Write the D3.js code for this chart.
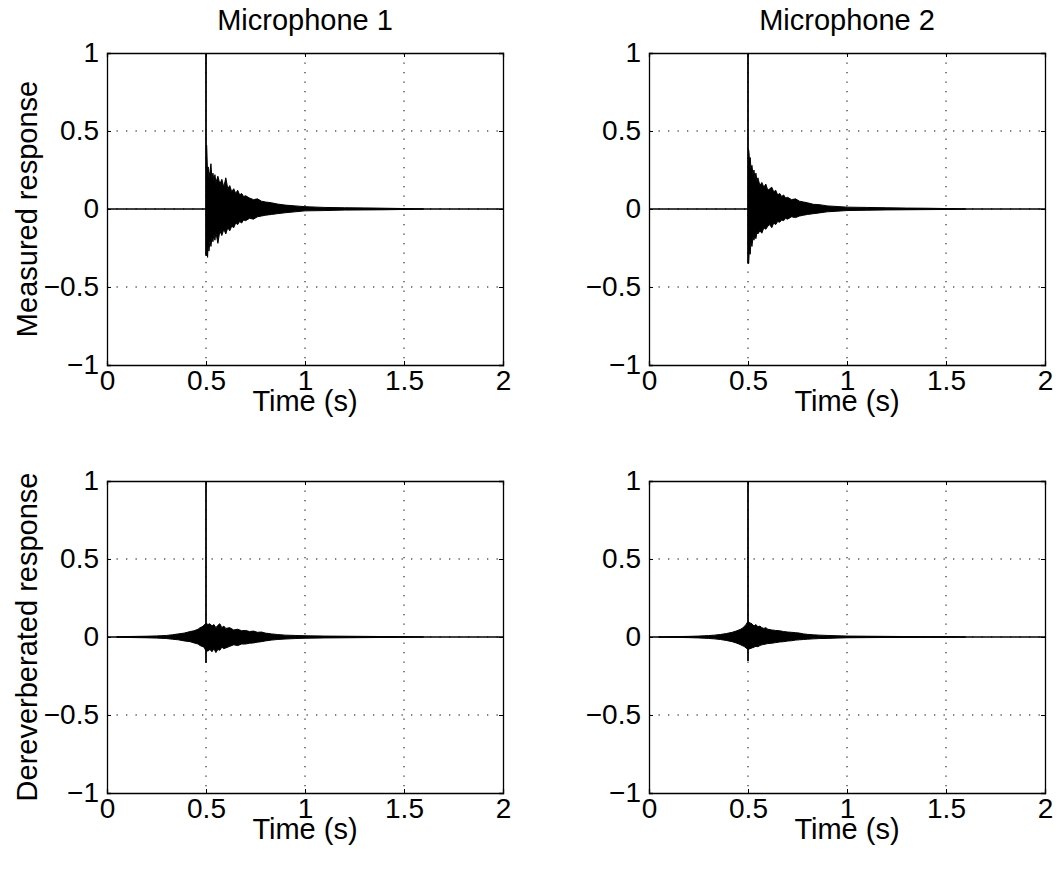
<!DOCTYPE html>
<html>
<head>
<meta charset="utf-8">
<script src="https://cdn.jsdelivr.net/npm/d3@7"></script>
<style>
  body { margin: 0; background: #fff; }
  text { font-family: "Liberation Sans", Arial, Helvetica, sans-serif; fill: #000; }
</style>
</head>
<body>
<script>
// Impulse responses, two microphones, before / after dereverberation

const titles = ["Microphone 1", "Microphone 2"];
const yLabels = ["Measured response", "Dereverberated response"];
const xLabel = "Time (s)";
const xTicks = [0, 0.5, 1, 1.5, 2];
const yTicks = [-1, -0.5, 0, 0.5, 1];
const xTickLabels = ["0", "0.5", "1", "1.5", "2"];
const yTickLabels = ["\u22121", "\u22120.5", "0", "0.5", "1"];

const tTop = [0.503, 0.505, 0.508, 0.511, 0.515, 0.52, 0.525, 0.53, 0.535, 0.54, 0.545, 0.55, 0.56, 0.57, 0.58, 0.59, 0.6, 0.61, 0.62, 0.63, 0.64, 0.65, 0.66, 0.67, 0.68, 0.69, 0.7, 0.72, 0.74, 0.76, 0.78, 0.8, 0.83, 0.86, 0.9, 0.95, 1.0, 1.1, 1.2, 1.3, 1.4, 1.5, 1.6];
const up1 = [0.41, 0.34, 0.22, 0.27, 0.2, 0.24, 0.29, 0.19, 0.23, 0.18, 0.22, 0.17, 0.21, 0.16, 0.19, 0.14, 0.2, 0.13, 0.15, 0.11, 0.13, 0.1, 0.12, 0.09, 0.1, 0.08, 0.085, 0.07, 0.06, 0.065, 0.05, 0.045, 0.04, 0.032, 0.025, 0.02, 0.015, 0.01, 0.008, 0.007, 0.005, 0.003, 0];
const lo1 = [-0.3, -0.26, -0.31, -0.22, -0.27, -0.2, -0.24, -0.18, -0.21, -0.16, -0.2, -0.15, -0.22, -0.14, -0.17, -0.13, -0.16, -0.12, -0.14, -0.11, -0.12, -0.09, -0.1, -0.08, -0.09, -0.07, -0.075, -0.06, -0.065, -0.05, -0.045, -0.04, -0.035, -0.03, -0.024, -0.018, -0.012, -0.01, -0.007, -0.006, -0.005, -0.003, 0];
const up2 = [0.38, 0.36, 0.3, 0.33, 0.26, 0.28, 0.22, 0.25, 0.2, 0.23, 0.18, 0.2, 0.15, 0.17, 0.14, 0.16, 0.12, 0.13, 0.14, 0.11, 0.12, 0.09, 0.1, 0.08, 0.09, 0.07, 0.075, 0.06, 0.065, 0.05, 0.045, 0.04, 0.03, 0.028, 0.02, 0.016, 0.012, 0.01, 0.008, 0.006, 0.005, 0.003, 0];
const lo2 = [-0.35, -0.3, -0.26, -0.29, -0.21, -0.24, -0.18, -0.2, -0.17, -0.19, -0.15, -0.16, -0.14, -0.155, -0.12, -0.13, -0.11, -0.1, -0.12, -0.09, -0.1, -0.08, -0.085, -0.07, -0.075, -0.06, -0.065, -0.05, -0.055, -0.045, -0.04, -0.035, -0.03, -0.025, -0.018, -0.014, -0.01, -0.008, -0.006, -0.005, -0.004, -0.003, 0];

// envelope of the dereverberated responses
const tBot = [0.05, 0.1, 0.15, 0.2, 0.25, 0.3, 0.33, 0.36, 0.39, 0.42, 0.44, 0.46, 0.47, 0.48, 0.49, 0.5, 0.51, 0.52, 0.53, 0.54, 0.55, 0.56, 0.57, 0.58, 0.59, 0.6, 0.62, 0.64, 0.66, 0.68, 0.7, 0.72, 0.74, 0.76, 0.78, 0.8, 0.83, 0.86, 0.9, 0.95, 1.0, 1.1, 1.2, 1.3, 1.4, 1.5, 1.6];
const up3 = [0.002, 0.003, 0.004, 0.005, 0.007, 0.01, 0.014, 0.02, 0.025, 0.035, 0.04, 0.05, 0.06, 0.065, 0.075, 0.09, 0.08, 0.085, 0.07, 0.08, 0.06, 0.075, 0.085, 0.06, 0.07, 0.055, 0.06, 0.045, 0.05, 0.04, 0.042, 0.035, 0.038, 0.03, 0.032, 0.025, 0.02, 0.016, 0.012, 0.01, 0.008, 0.006, 0.005, 0.004, 0.003, 0.002, 0];
const lo3 = [-0.002, -0.003, -0.004, -0.005, -0.007, -0.01, -0.014, -0.018, -0.025, -0.03, -0.038, -0.045, -0.055, -0.06, -0.065, -0.09, -0.09, -0.08, -0.095, -0.075, -0.1, -0.08, -0.085, -0.065, -0.075, -0.07, -0.06, -0.05, -0.055, -0.045, -0.045, -0.04, -0.038, -0.033, -0.03, -0.025, -0.02, -0.016, -0.013, -0.01, -0.008, -0.006, -0.005, -0.004, -0.003, -0.002, 0];
const up4 = [0.001, 0.002, 0.003, 0.004, 0.006, 0.009, 0.012, 0.016, 0.022, 0.03, 0.038, 0.048, 0.055, 0.065, 0.08, 0.1, 0.09, 0.085, 0.07, 0.08, 0.065, 0.07, 0.06, 0.055, 0.06, 0.05, 0.045, 0.042, 0.04, 0.035, 0.032, 0.03, 0.028, 0.025, 0.02, 0.017, 0.014, 0.012, 0.01, 0.008, 0.006, 0.005, 0.004, 0.003, 0.002, 0.002, 0];
const lo4 = [-0.001, -0.002, -0.003, -0.004, -0.006, -0.009, -0.012, -0.016, -0.022, -0.03, -0.038, -0.048, -0.055, -0.06, -0.07, -0.08, -0.075, -0.07, -0.065, -0.06, -0.062, -0.055, -0.05, -0.048, -0.045, -0.042, -0.04, -0.036, -0.032, -0.03, -0.026, -0.024, -0.02, -0.018, -0.016, -0.014, -0.012, -0.01, -0.009, -0.007, -0.005, -0.004, -0.003, -0.003, -0.002, -0.002, 0];

// direct path at t = 0.5 s: lowest sample and top (clipped at 1)
const spikeT = 0.5;
const spikeLow = [-0.3, -0.35, -0.165, -0.154];
const spikeHigh = [1.2, 1.2, 1.2, 1.2];

const width = 1060, height = 871;
const colX = [107, 649], rowY = [53, 481];
const pw = 396, ph = 312;

const panels = [
  {row: 0, col: 0, t: tTop, up: up1, lo: lo1},
  {row: 0, col: 1, t: tTop, up: up2, lo: lo2},
  {row: 1, col: 0, t: tBot, up: up3, lo: lo3},
  {row: 1, col: 1, t: tBot, up: up4, lo: lo4}
];

const svg = d3.select("body").append("svg")
  .attr("width", width)
  .attr("height", height);

const x = d3.scaleLinear().domain([0, 2]).range([0, pw]);
const y = d3.scaleLinear().domain([-1, 1]).range([ph, 0]);

const tickFont = 28, labelFont = 29;

panels.forEach((p, i) => {
  const g = svg.append("g")
    .attr("transform", `translate(${colX[p.col]},${rowY[p.row]})`);

  g.append("clipPath").attr("id", "clip" + i)
    .append("rect").attr("width", pw).attr("height", ph);

  // dotted grid
  g.selectAll(".vgrid").data(xTicks.slice(1, -1)).join("line")
    .attr("x1", d => x(d)).attr("x2", d => x(d))
    .attr("y1", 0).attr("y2", ph)
    .attr("stroke", "#000").attr("stroke-width", 1)
    .attr("stroke-dasharray", "1.3 8.2");
  g.selectAll(".hgrid").data(yTicks.slice(1, -1)).join("line")
    .attr("y1", d => y(d)).attr("y2", d => y(d))
    .attr("x1", 0).attr("x2", pw)
    .attr("stroke", "#000").attr("stroke-width", 1)
    .attr("stroke-dasharray", "1.3 8.2");

  const plot = g.append("g").attr("clip-path", `url(#clip${i})`);

  // zero line of the signal
  plot.append("line")
    .attr("x1", x(0)).attr("x2", x(2))
    .attr("y1", y(0)).attr("y2", y(0))
    .attr("stroke", "#000").attr("stroke-width", 1.3);

  const rows = d3.zip(p.t, p.up, p.lo);
  const area = d3.area()
    .x(d => x(d[0]))
    .y0(d => y(d[2]))
    .y1(d => y(d[1]));
  plot.append("path")
    .datum(rows)
    .attr("d", area)
    .attr("fill", "#000")
    .attr("stroke", "#000")
    .attr("stroke-width", 1)
    .attr("stroke-linejoin", "miter");

  // direct path spike
  plot.append("line")
    .attr("x1", x(spikeT)).attr("x2", x(spikeT))
    .attr("y1", y(spikeLow[i])).attr("y2", y(spikeHigh[i]))
    .attr("stroke", "#000").attr("stroke-width", 1.8);

  // axes box with inward ticks
  g.append("g").attr("transform", `translate(0,${ph})`)
    .call(d3.axisBottom(x).tickValues(xTicks).tickSize(-4).tickPadding(5)
      .tickFormat((d, k) => xTickLabels[k]));
  g.append("g")
    .call(d3.axisLeft(y).tickValues(yTicks).tickSize(-4).tickPadding(8)
      .tickFormat((d, k) => yTickLabels[k]));
  g.append("g")
    .call(d3.axisTop(x).tickValues(xTicks).tickSize(-4).tickFormat(""));
  g.append("g").attr("transform", `translate(${pw},0)`)
    .call(d3.axisRight(y).tickValues(yTicks).tickSize(-4).tickFormat(""));

  g.selectAll(".domain").attr("stroke", "#000").attr("stroke-width", 1.3);
  g.selectAll(".tick line").attr("stroke", "#000").attr("stroke-width", 1);
  g.selectAll(".tick text")
    .attr("font-family", "'Liberation Sans', Arial, sans-serif")
    .attr("font-size", tickFont)
    .attr("fill", "#000");

  // x label
  g.append("text")
    .attr("x", pw / 2).attr("y", ph + 46)
    .attr("text-anchor", "middle")
    .attr("font-size", labelFont)
    .text(xLabel);

  if (p.row === 0) {
    g.append("text")
      .attr("x", pw / 2).attr("y", -23)
      .attr("text-anchor", "middle")
      .attr("font-size", labelFont)
      .text(titles[p.col]);
  }
  if (p.col === 0) {
    g.append("text")
      .attr("transform", `translate(${37 - colX[0]},${ph / 2}) rotate(-90)`)
      .attr("text-anchor", "middle")
      .attr("font-size", labelFont)
      .text(yLabels[p.row]);
  }
});
</script>
</body>
</html>
